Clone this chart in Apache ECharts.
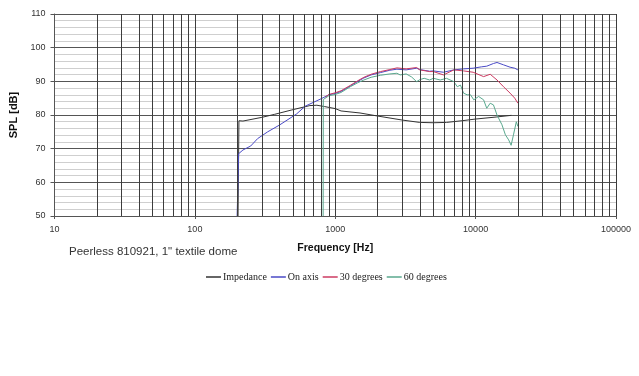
<!DOCTYPE html>
<html>
<head>
<meta charset="utf-8">
<script src="https://cdn.jsdelivr.net/npm/echarts@6/dist/echarts.min.js"></script>
<style>html,body{margin:0;padding:0;background:#fff}#c{width:639px;height:376px}</style>
</head>
<body>
<div id="c"></div>
<script>
// ---- data ----
const seriesNames = ['Impedance', 'On axis', '30 degrees', '60 degrees'];
const xTickLabels = [10, 100, 1000, 10000, 100000];
const yTickLabels = [50, 60, 70, 80, 90, 100, 110];
const minorGridFreqs = [20,30,40,50,60,70,80,90,200,300,400,500,600,700,800,900,2000,3000,4000,5000,6000,7000,8000,9000,20000,30000,40000,50000,60000,70000,80000,90000];

const impFreq = [203, 206, 220, 300, 370, 490, 660, 740, 840, 1000, 1100, 1500, 2000, 3000, 4000, 5000, 6200, 8000, 10000, 14000, 18000];
const impDb   = [50, 78.3, 78.2, 79.3, 80.2, 81.5, 82.8, 82.9, 82.5, 81.9, 81.2, 80.6, 79.7, 78.5, 77.8, 77.7, 77.8, 78.3, 78.8, 79.4, 79.9];

const onFreq = [200, 205, 220, 250, 280, 330, 400, 530, 610, 800, 900, 1000, 1100, 1280, 1450, 1600, 1800, 2100, 2450, 2750, 3200, 3800, 4000, 4700, 5000, 5900, 7000, 8200, 9600, 11000, 12000, 13400, 14200, 15800, 17600, 19000, 20000];
const onDb   = [50, 68.5, 69.6, 70.8, 73.0, 75.0, 77.0, 80.3, 82.6, 84.9, 86.0, 86.4, 87.0, 88.6, 90.0, 91.0, 91.9, 92.6, 93.3, 93.6, 93.4, 93.9, 93.5, 93.0, 93.1, 92.7, 93.4, 93.7, 93.9, 94.3, 94.5, 95.3, 95.6, 94.9, 94.2, 93.9, 93.4];

const d30Freq = [850, 900, 1000, 1100, 1280, 1450, 1600, 1800, 2100, 2450, 2750, 3200, 3800, 4000, 4700, 5000, 5900, 7000, 8200, 9600, 11400, 12700, 14200, 15800, 17600, 19000, 20000];
const d30Db   = [85.3, 86.1, 86.6, 87.2, 88.8, 90.2, 91.2, 92.1, 92.9, 93.5, 94.0, 93.7, 94.1, 93.4, 92.9, 92.9, 91.9, 93.4, 93.1, 92.7, 91.4, 92.1, 90.4, 88.4, 86.5, 85.0, 83.5];

const d60Freq = [820, 822, 830, 900, 1000, 1100, 1280, 1450, 1600, 1800, 2100, 2450, 2750, 2900, 3200, 3500, 3800, 4000, 4300, 4700, 5000, 5600, 6200, 7000, 7400, 7800, 8200, 8700, 9200, 9700, 10500, 11400, 12000, 12700, 13400, 14200, 15400, 16300, 17200, 17900, 18600, 19500, 20000];
const d60Db   = [50, 84.6, 85.0, 85.7, 86.1, 86.7, 88.4, 89.6, 90.4, 91.2, 91.8, 92.2, 92.4, 91.9, 92.2, 91.3, 89.9, 90.5, 90.9, 90.4, 90.9, 90.4, 90.9, 89.9, 88.4, 88.9, 86.5, 86.0, 86.0, 84.5, 85.5, 84.5, 82.0, 83.5, 83.0, 80.0, 77.1, 74.1, 72.6, 71.0, 74.1, 78.0, 76.6];

const colors = ['#333333', '#4a4ac6', '#cc3b62', '#5aa88e'];

function pairs(fs, vs) { return fs.map((f, i) => [f, vs[i]]); }
const allData = [pairs(impFreq, impDb), pairs(onFreq, onDb), pairs(d30Freq, d30Db), pairs(d60Freq, d60Db)];

const chart = echarts.init(document.getElementById('c'), null, {renderer: 'canvas'});
const curveSeries = seriesNames.map((n, i) => ({
  name: n, type: 'line', data: allData[i], showSymbol: false, symbol: 'none',
  lineStyle: {color: colors[i], width: 1}, itemStyle: {color: colors[i]}, z: 3, silent: true
}));
const gridSeries = {
  name: 'grid', type: 'line', data: [], z: 1, silent: true,
  markLine: {
    silent: true, symbol: 'none', label: {show: false}, animation: false,
    lineStyle: {color: '#3c3c3c', type: 'solid', width: 1},
    data: minorGridFreqs.map(f => ({xAxis: f}))
  }
};
chart.setOption({
  animation: false,
  backgroundColor: '#ffffff',
  color: colors,
  title: {
    text: 'Peerless 810921, 1" textile dome', left: 64, top: 241,
    textStyle: {fontFamily: 'Liberation Sans, Arial', fontSize: 11.5, fontWeight: 'normal', color: '#333'}
  },
  legend: {
    data: seriesNames, left: 201, top: 267, icon: 'rect', itemWidth: 15, itemHeight: 1.5, itemGap: 4,
    textStyle: {fontFamily: 'Liberation Serif, Times New Roman, serif', fontSize: 10, color: '#222', padding: [0, 0, 0, -3]}
  },
  grid: {left: 54.5, right: 23, top: 14, bottom: 160, containLabel: false},
  xAxis: {
    type: 'log', logBase: 10, min: 10, max: 100000,
    name: 'Frequency [Hz]', nameLocation: 'middle', nameGap: 27,
    nameTextStyle: {fontFamily: 'Liberation Sans, Arial', fontSize: 10.5, fontWeight: 'bold', color: '#111'},
    axisLine: {lineStyle: {color: '#555', width: 1}},
    axisTick: {show: true, length: 3, lineStyle: {color: '#555'}},
    axisLabel: {margin: 9, fontFamily: 'Liberation Sans, Arial', fontSize: 9, color: '#333',
      formatter: v => xTickLabels.includes(Math.round(v)) ? String(Math.round(v)) : ''},
    splitLine: {show: true, lineStyle: {color: '#3c3c3c', width: 1}}
  },
  yAxis: {
    type: 'value', min: 50, max: 110, interval: 10,
    name: 'SPL [dB]', nameLocation: 'middle', nameGap: 27, nameRotate: 90,
    nameTextStyle: {fontFamily: 'Liberation Sans, Arial', fontSize: 11, fontWeight: 'bold', color: '#111'},
    axisLine: {show: true, lineStyle: {color: '#555', width: 1}},
    axisTick: {show: true, length: 4, lineStyle: {color: '#555'}},
    minorTick: {show: false, splitNumber: 5},
    minorSplitLine: {show: true, lineStyle: {color: '#cfcfcf', width: 1}},
    axisLabel: {margin: 9, fontFamily: 'Liberation Sans, Arial', fontSize: 9, color: '#333',
      formatter: v => yTickLabels.includes(v) ? String(v) : ''},
    splitLine: {show: true, lineStyle: {color: '#555', width: 1}}
  },
  series: [gridSeries].concat(curveSeries)
});
</script>
</body>
</html>
